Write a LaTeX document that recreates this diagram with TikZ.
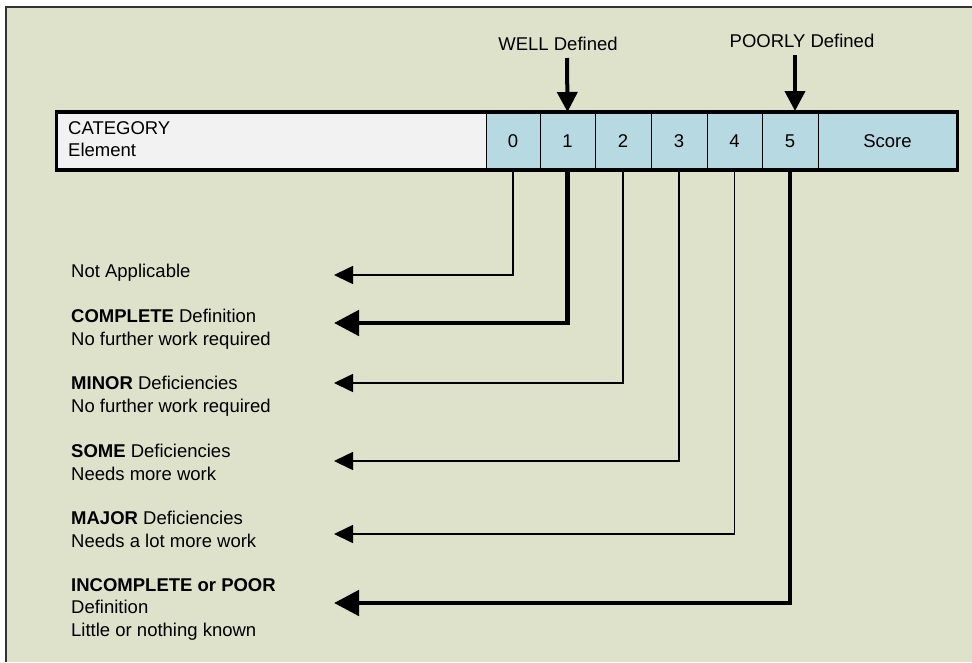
\documentclass[tikz,border=0pt]{standalone}
\usepackage{fontspec}
\setmainfont{Liberation Sans}
\usetikzlibrary{arrows.meta}
\definecolor{bg}{RGB}{222,226,203}
\definecolor{cellblue}{RGB}{183,218,226}
\definecolor{cellgray}{RGB}{242,242,242}
\begin{document}
\begin{tikzpicture}[x=1pt,y=-1pt, font=\fontsize{18.5}{22.5}\selectfont,
  thinarrow/.style={line width=1.6pt, -{Triangle[length=19pt,width=18pt]}},
  thickarrow/.style={line width=4.8pt, -{Triangle[length=25pt,width=25pt]}},
  downarrow/.style={line width=4pt, -{Triangle[length=20pt,width=20pt]}},
  cell/.style={draw, line width=1pt, fill=cellblue, minimum height=57pt, inner sep=0pt},
  lbl/.style={anchor=north west, inner sep=0pt, align=left}]
\useasboundingbox (0,0) rectangle (972,662);
\fill[white] (0,0) rectangle (972,662);
\fill[bg] (5.5,6.5) rectangle (972,662);
\draw[line width=2pt, black!80] (5.5,662) -- (5.5,6.5) -- (972,6.5);

% bar
\node[cell, fill=cellgray, minimum width=429pt] (cat) at (271.5,141) {};
\node[lbl] (cattext) at (68,121.3) {CATEGORY\\Element};
\node[cell, minimum width=54pt] (c0) at (513,141) {0};
\node[cell, minimum width=55pt] (c1) at (567.5,141) {1};
\node[cell, minimum width=56pt] (c2) at (623,141) {2};
\node[cell, minimum width=56pt] (c3) at (679,141) {3};
\node[cell, minimum width=55pt] (c4) at (734.5,141) {4};
\node[cell, minimum width=56pt] (c5) at (790,141) {5};
\node[cell, minimum width=139pt] (sc) at (887.5,141) {Score};
\draw[line width=3.5pt] (cat.north west) rectangle (sc.south east);

% top labels and arrows
\node[inner sep=0pt] (well) at (558,43.7) {WELL Defined};
\node[inner sep=0pt] (poor) at (802,40.7) {POORLY Defined};
\coordinate (w0) at (567,58);
\coordinate (p0) at (795,55);
\coordinate (p1) at (795,111);
\draw[downarrow] (w0) -- (c1.north);
\draw[downarrow] (p0) -- (p1);

% left labels
\node[lbl] (l0) at (71,264) {Not Applicable};
\node[lbl] (l1) at (71,309.3) {\textbf{COMPLETE} Definition\\No further work required};
\node[lbl] (l2) at (71,376.3) {\textbf{MINOR} Deficiencies\\No further work required};
\node[lbl] (l3) at (71,444.3) {\textbf{SOME} Deficiencies\\Needs more work};
\node[lbl] (l4) at (71,511.3) {\textbf{MAJOR} Deficiencies\\Needs a lot more work};
\node[lbl] (l5) at (71,578.3) {\textbf{INCOMPLETE or POOR}\\Definition\\Little or nothing known};

% arrow ends
\coordinate (t0) at (334,275);
\coordinate (t1) at (334,323);
\coordinate (t2) at (334,383);
\coordinate (t3) at (334,461);
\coordinate (t4) at (334,534);
\coordinate (t5) at (334,603);

\draw[thinarrow] (c0.south) |- (t0);
\draw[thickarrow] (c1.south) |- (t1);
\draw[thinarrow] (c2.south) |- (t2);
\draw[thinarrow] (c3.south) |- (t3);
\draw[thinarrow] (c4.south) |- (t4);
\draw[thickarrow] (c5.south) |- (t5);
\end{tikzpicture}
\end{document}
